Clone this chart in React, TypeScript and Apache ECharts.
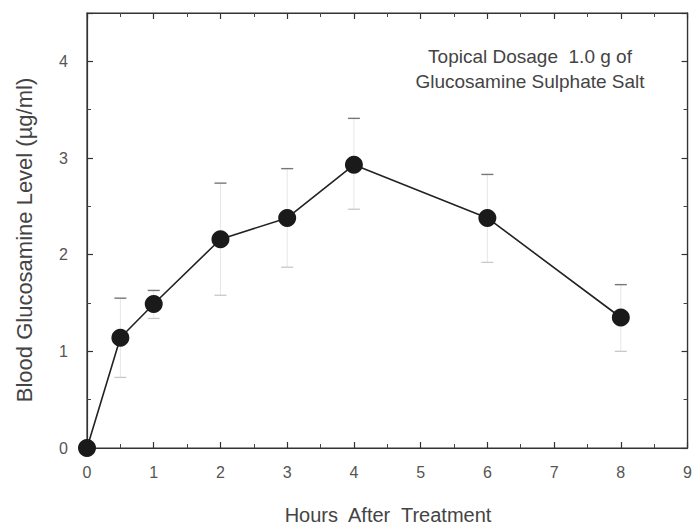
import React, { useEffect, useRef } from "react";
import * as echarts from "echarts";

const hours = [0, 0.5, 1, 2, 3, 4, 6, 8];
const levels = [0, 1.14, 1.49, 2.16, 2.38, 2.93, 2.38, 1.35];
const errLow = [0, 0.73, 1.34, 1.58, 1.87, 2.47, 1.92, 1.0];
const errHigh = [0, 1.55, 1.63, 2.74, 2.89, 3.41, 2.83, 1.69];
const xTicks = [0, 1, 2, 3, 4, 5, 6, 7, 8, 9];
const yTicks = [0, 1, 2, 3, 4];
const annotation = ["Topical Dosage  1.0 g of", "Glucosamine Sulphate Salt"];
const xName = "Hours  After  Treatment";
const yName = "Blood Glucosamine Level (\u00b5g/ml)";

export default function App() {
  const ref = useRef<HTMLDivElement>(null);
  useEffect(() => {
    if (!ref.current) return;
    const chart = echarts.init(ref.current, undefined, { renderer: "svg" });
    const font = "Arial, 'Liberation Sans', sans-serif";
    const errData = hours.map((h, i) => [h, errLow[i], errHigh[i]]).filter((d, i) => errHigh[i] > errLow[i]);
    const axisCommon = () => ({
      axisLine: { show: true, onZero: false, lineStyle: { color: "#333", width: 1.2 } },
      axisTick: { show: true, inside: true, length: 6, lineStyle: { color: "#333", width: 1.2 } },
      minorTick: { show: true, splitNumber: 2, length: 4, lineStyle: { color: "#444" } },
      splitLine: { show: false },
    });
    chart.setOption({
      animation: false,
      backgroundColor: "#fff",
      grid: { left: 87, right: 7, top: 13, bottom: 79, show: true, borderColor: "#333", borderWidth: 1.2 },
      xAxis: [
        {
          type: "value",
          min: 0,
          max: 9,
          interval: 1,
          ...axisCommon(),
          axisLabel: {
            color: "#555",
            fontSize: 16,
            fontFamily: font,
            margin: 16,
            formatter: (v: number) => (xTicks.includes(v) ? String(v) : ""),
          },
        },
        {
          type: "value",
          position: "top",
          min: 0,
          max: 9,
          interval: 1,
          ...axisCommon(),
          axisLabel: { show: false },
        },
      ],
      yAxis: [
        {
          type: "value",
          min: 0,
          max: 4.5,
          interval: 1,
          ...axisCommon(),
          axisLabel: {
            color: "#555",
            fontSize: 16,
            fontFamily: font,
            margin: 19,
            formatter: (v: number) => (yTicks.includes(v) ? String(v) : ""),
          },
        },
        {
          type: "value",
          position: "right",
          min: 0,
          max: 4.5,
          interval: 1,
          ...axisCommon(),
          axisLabel: { show: false },
        },
      ],
      series: [
        {
          type: "custom",
          xAxisIndex: 0,
          yAxisIndex: 0,
          data: errData,
          z: 1,
          renderItem: (params: any, api: any) => {
            const x = api.value(0);
            const lo = api.coord([x, api.value(1)]);
            const hi = api.coord([x, api.value(2)]);
            const w = 6;
            return {
              type: "group",
              children: [
                { type: "line", shape: { x1: lo[0], y1: lo[1], x2: hi[0], y2: hi[1] }, style: { stroke: "#e6e6e6", lineWidth: 1 } },
                { type: "line", shape: { x1: hi[0] - w, y1: hi[1], x2: hi[0] + w, y2: hi[1] }, style: { stroke: "#777", lineWidth: 1.4 } },
                { type: "line", shape: { x1: lo[0] - w, y1: lo[1], x2: lo[0] + w, y2: lo[1] }, style: { stroke: "#c8c8c8", lineWidth: 1.3 } },
              ],
            };
          },
        },
        {
          type: "line",
          xAxisIndex: 0,
          yAxisIndex: 0,
          data: hours.map((h, i) => [h, levels[i]]),
          symbol: "circle",
          symbolSize: 18,
          itemStyle: { color: "#1a1a1a" },
          lineStyle: { color: "#222", width: 1.6 },
          z: 3,
        },
      ],
      graphic: [
        {
          type: "text",
          x: 530,
          y: 44,
          style: {
            text: annotation.join("\n"),
            fill: "#444",
            font: `19px ${font}`,
            lineHeight: 25,
            align: "center",
          },
        },
        {
          type: "text",
          x: 388,
          y: 515,
          style: {
            text: xName,
            fill: "#444",
            font: `20px ${font}`,
            align: "center",
            verticalAlign: "middle",
          },
        },
        {
          type: "text",
          x: 24,
          y: 240,
          rotation: Math.PI / 2,
          style: {
            text: yName,
            fill: "#444",
            font: `22px ${font}`,
            align: "center",
            verticalAlign: "middle",
          },
        },
      ],
    });
    return () => chart.dispose();
  }, []);
  return <div ref={ref} style={{ position: "absolute", left: 0, top: 0, width: 695, height: 527 }} />;
}
